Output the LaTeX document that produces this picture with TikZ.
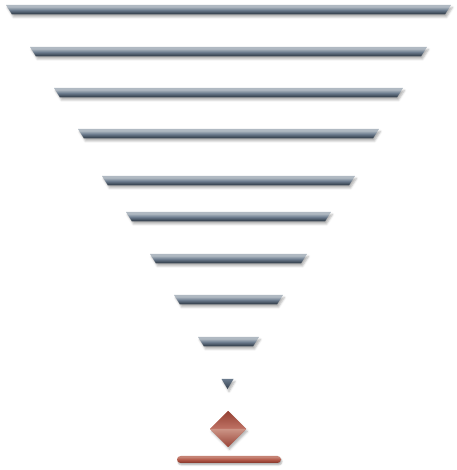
\documentclass[tikz,border=0pt]{standalone}
\usetikzlibrary{shadows.blur}
\definecolor{barlight}{HTML}{B0B9C2}
\definecolor{barmid}{HTML}{6A7A8C}
\definecolor{bardark}{HTML}{36414E}
\definecolor{redlight}{HTML}{CC9486}
\definecolor{redmid}{HTML}{B45A4A}
\definecolor{reddark}{HTML}{8C3A2E}
\pgfdeclareverticalshading{barshade}{100bp}{color(0bp)=(bardark); color(30bp)=(bardark); color(48bp)=(barmid); color(66bp)=(barlight); color(100bp)=(barlight)}
\pgfdeclareverticalshading{redbar}{100bp}{color(0bp)=(reddark); color(30bp)=(reddark); color(50bp)=(redmid); color(68bp)=(redlight!70!redmid); color(100bp)=(redlight!70!redmid)}
\tikzset{
  bevel/.style={shading=barshade, blur shadow={shadow xshift=1.5pt, shadow yshift=-2.5pt, shadow opacity=30, shadow blur radius=2pt}},
  gem/.style={blur shadow={shadow xshift=1.5pt, shadow yshift=-2.5pt, shadow opacity=30, shadow blur radius=2pt}}
}

\begin{document}
\begin{tikzpicture}[x=1pt,y=1pt]
\useasboundingbox (0,0) rectangle (456,470);
\foreach \t [count=\i from 0] in {5,47,88,129,176,212,254,295,337}
	\shade[bevel] (228.5-222.5+24*\i, 470-\t) -- (228.5+222.5-24*\i, 470-\t) -- (228.5+216.5-24*\i, 460.5-\t) -- (228.5-216.5+24*\i, 460.5-\t) -- cycle;
\shade[gem, top color=barmid, bottom color=bardark] (221.5,91) -- (233.5,91) -- (227.5,81) -- cycle;
\fill[gem, redmid] (210,41) -- (228,59) -- (246,41) -- (228,23) -- cycle;
\shade[top color=reddark!80!redmid, bottom color=redmid!85!white] (210,41) -- (228,59) -- (246,41) -- cycle;
\shade[top color=redlight, bottom color=reddark!70!redmid] (210,41) -- (246,41) -- (228,23) -- cycle;
\shade[shading=redbar, rounded corners=3.5pt, blur shadow={shadow xshift=1pt, shadow yshift=-2pt, shadow opacity=30, shadow blur radius=1.5pt}] (177,7) rectangle (281,14);
\end{tikzpicture}
\end{document}
